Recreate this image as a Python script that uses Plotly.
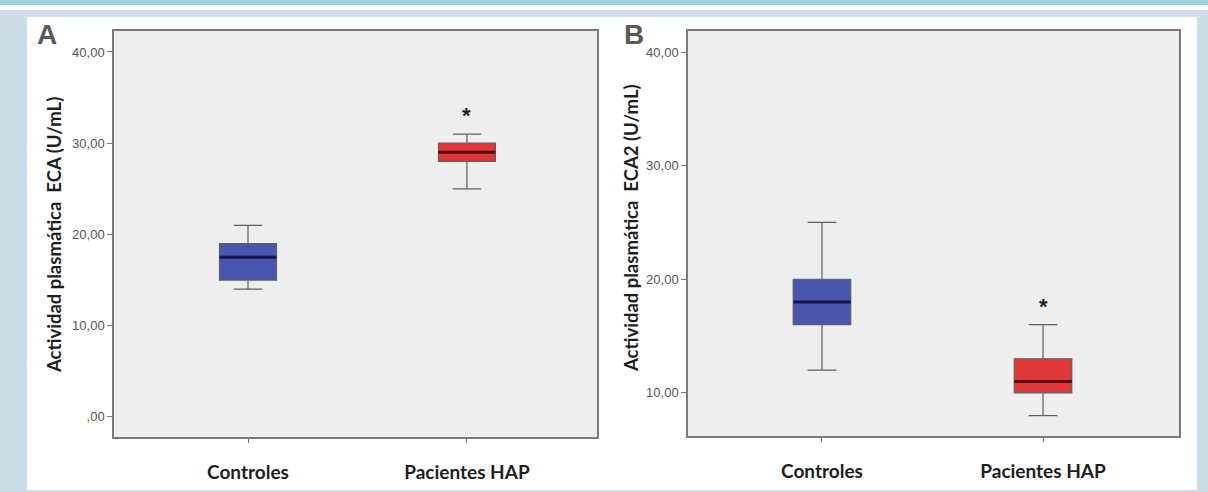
import plotly.graph_objects as go

# ---------------- data ----------------
categories = ["Controles", "Pacientes HAP"]

eca_lower = [14.0, 25.0]
eca_q1 = [15.0, 28.0]
eca_median = [17.5, 29.0]
eca_q3 = [19.0, 30.0]
eca_upper = [21.0, 31.0]

eca2_lower = [12.0, 8.0]
eca2_q1 = [16.0, 10.0]
eca2_median = [18.0, 11.0]
eca2_q3 = [20.0, 13.0]
eca2_upper = [25.0, 16.0]

eca_ticks = [0, 10, 20, 30, 40]
eca_ticktext = [",00", "10,00", "20,00", "30,00", "40,00"]
eca2_ticks = [10, 20, 30, 40]
eca2_ticktext = ["10,00", "20,00", "30,00", "40,00"]

significant = [False, True]

# ---------------- style ----------------
W, H = 1208, 492
fills = ["#4B55AD", "#E0373A"]
median_colors = ["#17184C", "#5A0C0C"]
box_w = 0.26


def px(x):
    return x / W


def py(y):
    return 1 - y / H


fig = go.Figure()

panels = [
    dict(xa="x", ya="y", lower=eca_lower, q1=eca_q1, med=eca_median, q3=eca_q3, upper=eca_upper),
    dict(xa="x2", ya="y2", lower=eca2_lower, q1=eca2_q1, med=eca2_median, q3=eca2_q3, upper=eca2_upper),
]

for p in panels:
    for i, cat in enumerate(categories):
        fig.add_trace(go.Box(
            x=[i], q1=[p["q1"][i]], median=[p["med"][i]], q3=[p["q3"][i]],
            lowerfence=[p["lower"][i]], upperfence=[p["upper"][i]],
            width=box_w, whiskerwidth=0.5,
            fillcolor=fills[i], line=dict(color="#5E5E5E", width=1.2),
            xaxis=p["xa"], yaxis=p["ya"], showlegend=False, hoverinfo="skip",
        ))
        fig.add_trace(go.Scatter(
            x=[i - box_w / 2, i + box_w / 2], y=[p["med"][i], p["med"][i]],
            mode="lines", line=dict(color=median_colors[i], width=3),
            xaxis=p["xa"], yaxis=p["ya"], showlegend=False, hoverinfo="skip",
        ))
        if significant[i]:
            fig.add_annotation(
                x=i, y=p["upper"][i], xref=p["xa"], yref=p["ya"],
                text="<b>*</b>", showarrow=False, yanchor="bottom", yshift=4,
                font=dict(size=22, color="#222222", family="Liberation Sans"),
            )

axis_common = dict(showline=True, mirror=True, linecolor="#7A7A7A", linewidth=1.5,
                   showgrid=False, zeroline=False, ticks="outside", tickcolor="#7A7A7A",
                   ticklen=5, tickwidth=1)

xcommon = dict(axis_common, tickvals=[0, 1], ticktext=["<b>%s</b>" % c for c in categories],
               tickfont=dict(family="Lato", size=19, color="#1E1E1E"),
               ticklabelstandoff=13, ticklen=4)
ycommon = dict(axis_common, tickfont=dict(family="Liberation Sans", size=13, color="#555555"))

fig.update_layout(
    width=W, height=H,
    margin=dict(l=0, r=0, t=0, b=0),
    paper_bgcolor="white",
    plot_bgcolor="#EEEEEE",
    showlegend=False,
    xaxis=dict(xcommon, domain=[px(114), px(597)], range=[-0.612, 1.594], anchor="y"),
    yaxis=dict(ycommon, domain=[py(437), py(31)], range=[-2.2, 42.3],
               tickvals=eca_ticks, ticktext=eca_ticktext, anchor="x"),
    xaxis2=dict(xcommon, domain=[px(688), px(1179)], range=[-0.606, 1.615], anchor="y2"),
    yaxis2=dict(ycommon, domain=[py(436), py(31)], range=[6.2, 41.85],
                tickvals=eca2_ticks, ticktext=eca2_ticktext, anchor="x2"),
)

# page frame
frame = "#CDDDE7"
shapes = [
    dict(x0=0, x1=W, y0=0, y1=5, color="#9CD4E0"),
    dict(x0=0, x1=W, y0=10, y1=17, color=frame),
    dict(x0=0, x1=27, y0=10, y1=H, color=frame),
    dict(x0=1197, x1=W, y0=10, y1=H, color=frame),
    dict(x0=0, x1=W, y0=490, y1=H, color=frame),
]
for s in shapes:
    fig.add_shape(type="rect", xref="paper", yref="paper",
                  x0=px(s["x0"]), x1=px(s["x1"]), y0=py(s["y1"]), y1=py(s["y0"]),
                  fillcolor=s["color"], line=dict(width=0), layer="below")

# panel letters
for letter, x in [("A", 35), ("B", 622)]:
    fig.add_annotation(x=px(x), y=py(17), xref="paper", yref="paper", text="<b>%s</b>" % letter,
                       showarrow=False, xanchor="left", yanchor="top",
                       font=dict(family="Liberation Sans", size=28, color="#5A5A5A"))

# y axis titles
for txt, x, y in [("Actividad plasmática  ECA (U/mL)", 54, 235),
                  ("Actividad plasmática  ECA2 (U/mL)", 631, 228)]:
    fig.add_annotation(x=px(x), y=py(y), xref="paper", yref="paper", text="<b>%s</b>" % txt,
                       showarrow=False, textangle=-90, xanchor="center", yanchor="middle",
                       font=dict(family="Lato", size=18.5, color="#1E1E1E"))

fig.write_html("out.html", config={"displayModeBar": False},
               post_script="document.body.style.margin='0';")
